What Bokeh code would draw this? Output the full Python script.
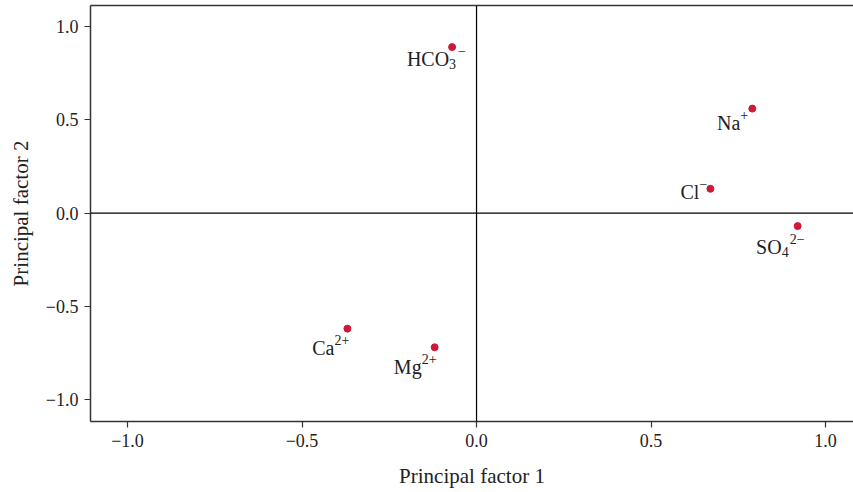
from bokeh.plotting import figure
from bokeh.models import ColumnDataSource, FixedTicker, LinearAxis, Range1d, Span
from bokeh.core.properties import value
from bokeh.embed import file_html
from bokeh.resources import INLINE

# ---------------- data ----------------
ion_base = ["HCO", "Na", "Cl", "SO", "Ca", "Mg"]
ion_sub = ["3", "", "", "4", "", ""]
ion_sup = ["\u2212", "+", "\u2212", "2\u2212", "2+", "2+"]
factor1 = [-0.07, 0.79, 0.67, 0.92, -0.37, -0.12]
factor2 = [0.89, 0.56, 0.13, -0.07, -0.62, -0.72]

tick_values = [-1.0, -0.5, 0.0, 0.5, 1.0]
tick_labels = ["\u22121.0", "\u22120.5", "0.0", "0.5", "1.0"]

# ---------------- label styling (pixel offsets, +y = down) ----------------
lab_dx = [-3, -12, -11, -16, -13, -13]
lab_dy = [12, 14, 3, 21, 19, 20]
sup_dx = [9, 0, 0, 8, 0, 0]

FONT = "Liberation Serif"
TXT = "#222222"

src = ColumnDataSource(dict(
    x=factor1, y=factor2, base=ion_base, sub=ion_sub, sup=ion_sup,
    bdx=lab_dx, bdy=lab_dy,
    sbdy=[d + 5 for d in lab_dy],
    spdx=[a + b for a, b in zip(lab_dx, sup_dx)],
    spdy=[d - 8 for d in lab_dy],
))

p = figure(width=853, height=492, output_backend="svg", toolbar_location=None,
           x_range=Range1d(-1.106, 1.080), y_range=Range1d(-1.118, 1.113),
           min_border_left=90, min_border_right=0, min_border_top=5,
           min_border_bottom=71, x_axis_location=None, y_axis_location=None)
p.grid.visible = False
p.outline_line_color = None
p.background_fill_color = "white"
p.border_fill_color = "white"

def style_axis(ax, label):
    ax.ticker = FixedTicker(ticks=tick_values)
    ax.major_label_overrides = {v: l for v, l in zip(tick_values, tick_labels)}
    ax.axis_label = label
    ax.axis_label_text_font = FONT
    ax.axis_label_text_font_style = "normal"
    ax.axis_label_text_font_size = "21px"
    ax.axis_label_text_color = TXT
    ax.major_label_text_font = FONT
    ax.major_label_text_font_size = "18px"
    ax.major_label_text_color = TXT
    ax.axis_line_color = "#333333"
    ax.axis_line_width = 1.5
    ax.major_tick_line_color = "#333333"
    ax.major_tick_line_width = 1.2
    ax.major_tick_in = 0
    ax.major_tick_out = 6
    ax.minor_tick_line_color = None
    ax.major_label_standoff = 6

xa = LinearAxis()
style_axis(xa, "Principal factor 1")
xa.axis_label_standoff = 14
p.add_layout(xa, "below")

ya = LinearAxis()
style_axis(ya, "Principal factor 2")
ya.axis_label_standoff = 10
p.add_layout(ya, "left")

top = LinearAxis(ticker=FixedTicker(ticks=[]), major_tick_line_color=None,
                 minor_tick_line_color=None, major_label_text_font_size="0px",
                 major_tick_out=0, major_label_standoff=0,
                 axis_line_color="#333333", axis_line_width=1.5)
p.add_layout(top, "above")

p.add_layout(Span(location=0, dimension="height", line_color="black", line_width=1.2))
p.add_layout(Span(location=0, dimension="width", line_color="black", line_width=1.2))

p.scatter("x", "y", source=src, size=7, fill_color="#cf1a37", line_color="#cf1a37")

common = dict(source=src, text_font=value(FONT), text_color=TXT, text_baseline="alphabetic")
p.text("x", "y", text="base", x_offset="bdx", y_offset="bdy", text_align="right",
       text_font_size="20px", **common)
p.text("x", "y", text="sub", x_offset="bdx", y_offset="sbdy", text_align="left",
       text_font_size="14px", **common)
p.text("x", "y", text="sup", x_offset="spdx", y_offset="spdy", text_align="left",
       text_font_size="14px", **common)

open("out.html", "w").write(file_html(p, INLINE))
